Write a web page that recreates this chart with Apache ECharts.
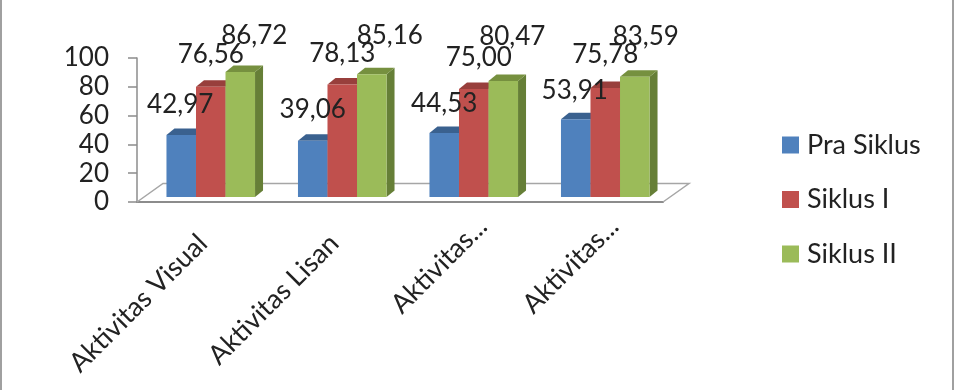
<!DOCTYPE html>
<html>
<head>
<meta charset="utf-8">
<style>html,body{margin:0;padding:0;background:#fff}#chart{width:960px;height:390px}</style>
<script src="https://cdn.jsdelivr.net/npm/echarts@6/dist/echarts.min.js"></script>
</head>
<body>
<div id="chart"></div>
<script>
const categories = ['Aktivitas Visual', 'Aktivitas Lisan', 'Aktivitas...', 'Aktivitas...'];
const seriesNames = ['Pra Siklus', 'Siklus I', 'Siklus II'];
const praSiklus = [42.97, 39.06, 44.53, 53.91];
const siklusI = [76.56, 78.13, 75.00, 75.78];
const siklusII = [86.72, 85.16, 80.47, 83.59];
const yTicks = [0, 20, 40, 60, 80, 100];

// Face colours for each series: front, top, side
const palette = [
  { front: '#4F81BD', top: '#3A618F', side: '#2F5078' },
  { front: '#C0504D', top: '#983F3C', side: '#803432' },
  { front: '#9BBB59', top: '#76903F', side: '#667F37' }
];

// Hand placement of each value label relative to its bar: [dx, dy above the top]
const labelNudge = [
  [[-1, 31], [0, 31], [0, 29], [-1, 29]],
  [[0, 32], [0, 31], [5, 31], [0, 33]],
  [[14, 37], [18, 39], [9, 45], [11, 40]]
];

// Shortened category names sit further along their slanted baseline
const categorySlide = [0, 0, 24, 24];

const DEPTH_X = 8, DEPTH_Y = 6.5;   // oblique projection of the bars
const FLOOR_LIFT = 5;               // bars stand slightly behind the front axis
const BAR_RATIO = 0.2245;           // bar width as a share of the category band
const CLUSTER_SHIFT = 8;            // cluster sits right of the band centre
const FONT = 'Lato';

function barRenderer(seriesIdx) {
  return function (params, api) {
    const cat = api.value(0);
    const top = api.coord([cat, api.value(1)]);
    const base = api.coord([cat, 0]);
    const band = api.size([1, 0])[0];
    const w = band * BAR_RATIO;
    const x0 = top[0] + CLUSTER_SHIFT + (seriesIdx - 1.5) * w;
    const x1 = x0 + w;
    const yT = top[1] - FLOOR_LIFT;
    const yB = base[1] - FLOOR_LIFT;
    const c = palette[seriesIdx];
    const poly = (points, fill) => ({
      type: 'polygon',
      shape: { points },
      style: { fill, stroke: null }
    });
    return {
      type: 'group',
      children: [
        poly([[x1, yB], [x1 + DEPTH_X, yB - DEPTH_Y], [x1 + DEPTH_X, yT - DEPTH_Y], [x1, yT]], c.side),
        poly([[x0, yT], [x0 + DEPTH_X, yT - DEPTH_Y], [x1 + DEPTH_X, yT - DEPTH_Y], [x1, yT]], c.top),
        poly([[x0, yB], [x1, yB], [x1, yT], [x0, yT]], c.front)
      ]
    };
  };
}

function labelRenderer(seriesIdx) {
  return function (params, api) {
    const cat = api.value(0);
    const val = api.value(1);
    const top = api.coord([cat, val]);
    const w = api.size([1, 0])[0] * BAR_RATIO;
    const nudge = labelNudge[seriesIdx][cat];
    return {
      type: 'text',
      style: {
        text: val.toFixed(2).replace('.', ','),
        x: top[0] + CLUSTER_SHIFT + (seriesIdx - 1) * w + nudge[0],
        y: top[1] - FLOOR_LIFT - nudge[1],
        align: 'center',
        verticalAlign: 'middle',
        fontFamily: FONT,
        fontSize: 26,
        fill: '#222'
      }
    };
  };
}

// Floor of the 3D plot: two receding edges and the back edge
function floorRenderer(params, api) {
  const r = params.coordSys;
  const b = r.y + r.height;
  const bx = 26, by = 18.5;
  return {
    type: 'polyline',
    shape: { points: [[r.x, b], [r.x + bx, b - by], [r.x + r.width + bx, b - by], [r.x + r.width, b]] },
    style: { fill: null, stroke: '#A6A6A6', lineWidth: 1.5 }
  };
}

const valueSets = [praSiklus, siklusI, siklusII];
const rows = values => values.map((v, i) => [i, v]);

const chart = echarts.init(document.getElementById('chart'), null, { renderer: 'canvas' });
chart.setOption({
  animation: false,
  backgroundColor: '#fff',
  grid: { left: 137, right: 297, top: 58, bottom: 188 },
  xAxis: {
    type: 'category',
    data: categories.map((value, i) => ({
      value,
      textStyle: { padding: [0, -categorySlide[i], 0, 0] }
    })),
    axisLine: { lineStyle: { color: '#8C8C8C', width: 2 } },
    axisTick: { length: 6, lineStyle: { color: '#8C8C8C', width: 1.5 } },
    axisLabel: {
      interval: 0, rotate: 45, margin: 37,
      fontFamily: FONT, fontSize: 27, color: '#222'
    }
  },
  yAxis: {
    type: 'value',
    min: yTicks[0],
    max: yTicks[yTicks.length - 1],
    interval: yTicks[1] - yTicks[0],
    splitLine: { show: false },
    axisLine: { show: true, lineStyle: { color: '#8C8C8C', width: 1.5 } },
    axisTick: { show: true, length: 9, lineStyle: { color: '#8C8C8C', width: 1.5 } },
    axisLabel: { margin: 28, fontFamily: FONT, fontSize: 26, color: '#222' }
  },
  legend: {
    orient: 'vertical',
    left: 777,
    top: 126,
    itemWidth: 17,
    itemHeight: 17,
    itemGap: 26.5,
    icon: 'rect',
    data: seriesNames,
    selectedMode: false,
    textStyle: { fontFamily: FONT, fontSize: 27, lineHeight: 28, color: '#222', padding: [0, 0, 0, 3] }
  },
  graphic: [
    { type: 'line', silent: true, shape: { x1: 1, y1: 0, x2: 1, y2: 390 }, style: { stroke: '#A0A0A0', lineWidth: 2 } },
    { type: 'line', silent: true, shape: { x1: 953, y1: 0, x2: 953, y2: 390 }, style: { stroke: '#A0A0A0', lineWidth: 2 } }
  ],
  series: [
    { type: 'custom', name: 'floor', renderItem: floorRenderer, data: [[0, 0]], z: 1, silent: true },
    ...seriesNames.map((name, s) => ({
      type: 'custom',
      name,
      renderItem: barRenderer(s),
      data: rows(valueSets[s]),
      encode: { x: 0, y: 1 },
      itemStyle: { color: palette[s].front },
      z: 2 + s
    })),
    ...seriesNames.map((name, s) => ({
      type: 'custom',
      name: name + ' labels',
      renderItem: labelRenderer(s),
      data: rows(valueSets[s]),
      encode: { x: 0, y: 1 },
      z: 10,
      silent: true
    }))
  ]
});
</script>
</body>
</html>
